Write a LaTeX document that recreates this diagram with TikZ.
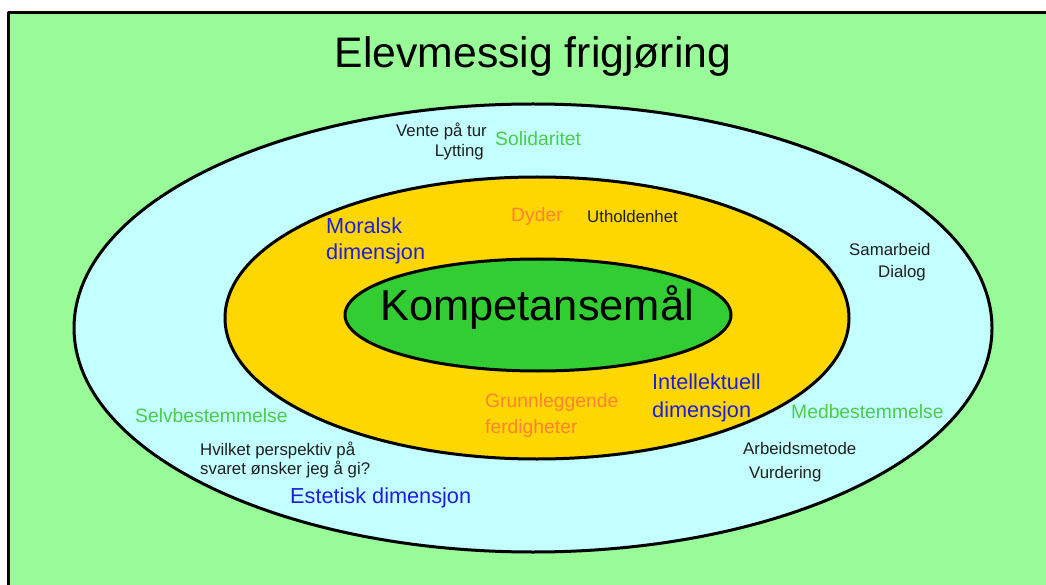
\documentclass[tikz,border=0pt]{standalone}
\usepackage{fontspec}
\setmainfont{Liberation Sans}
\definecolor{palegreen}{RGB}{152,251,152}
\definecolor{lightcyan}{RGB}{196,255,255}
\definecolor{gold}{RGB}{255,215,0}
\definecolor{limegreen}{RGB}{50,205,50}
\definecolor{dimblue}{RGB}{30,30,220}
\definecolor{valuegreen}{RGB}{76,204,76}
\definecolor{skillorange}{RGB}{255,130,50}
\begin{document}
\begin{tikzpicture}[x=1pt,y=-1pt,line join=round,
	ring/.style={draw=black,line width=3pt},
	note/.style={inner sep=0pt,anchor=base west,text=black!88,font=\fontsize{16.8}{20}\selectfont},
	value/.style={note,text=valuegreen,font=\fontsize{19.3}{23}\selectfont},
	skill/.style={note,text=skillorange,font=\fontsize{19.3}{23}\selectfont},
	dim/.style={note,text=dimblue,font=\fontsize{21.7}{26}\selectfont}]
	\path[use as bounding box] (0,0) rectangle (1046,585);
	\clip (0,0) rectangle (1046,585);
	\path 
	(533,328)coordinate(O1)
	(537,318)coordinate(O2)
	(538,315)coordinate(O3)
	;
	\draw[fill=palegreen,line width=3pt] (8,12.5) rectangle (1070,610);
	\draw[ring,fill=lightcyan] (O1) ellipse (459 and 224);
	\draw[ring,fill=gold] (O2) ellipse (312 and 141);
	\draw[ring,fill=limegreen] (O3) ellipse (193 and 56);
	% titles
	\node[note,anchor=base,text=black,font=\fontsize{42.7}{50}\selectfont] (title) at (533,68) {Elevmessig frigjøring};
	\node[note,text=black,font=\fontsize{43.4}{50}\selectfont] (core) at (380,320) {Kompetansemål};
	% dimensions
	\node[dim] (moral) at (326,234) {Moralsk};
	\node[dim] (moraldim) at (326,260) {dimensjon};
	\node[dim] (intel) at (652,389) {Intellektuell};
	\node[dim] (inteldim) at (652,417) {dimensjon};
	\node[dim] (estetisk) at (290,503) {Estetisk dimensjon};
	% values and skills
	\node[value] (solid) at (495,146) {Solidaritet};
	\node[value] (selv) at (135,422) {Selvbestemmelse};
	\node[value] (med) at (791,418) {Medbestemmelse};
	\node[skill] (dyder) at (511,222) {Dyder};
	\node[skill] (grunn) at (485,407) {Grunnleggende};
	\node[skill] (ferd) at (485,433) {ferdigheter};
	% notes
	\node[note,anchor=base east] (vente) at (487,137) {Vente på tur};
	\node[note,anchor=base east] (lytting) at (484,157) {Lytting};
	\node[note] (uthold) at (587,223) {Utholdenhet};
	\node[note] (samarbeid) at (849,255) {Samarbeid};
	\node[note] (dialog) at (878,277) {Dialog};
	\node[note] (hvilket) at (200,455) {Hvilket perspektiv på};
	\node[note] (svaret) at (200,474) {svaret ønsker jeg å gi?};
	\node[note] (arbeid) at (743,454) {Arbeidsmetode};
	\node[note] (vurdering) at (749,478) {Vurdering};
\end{tikzpicture}
\end{document}
